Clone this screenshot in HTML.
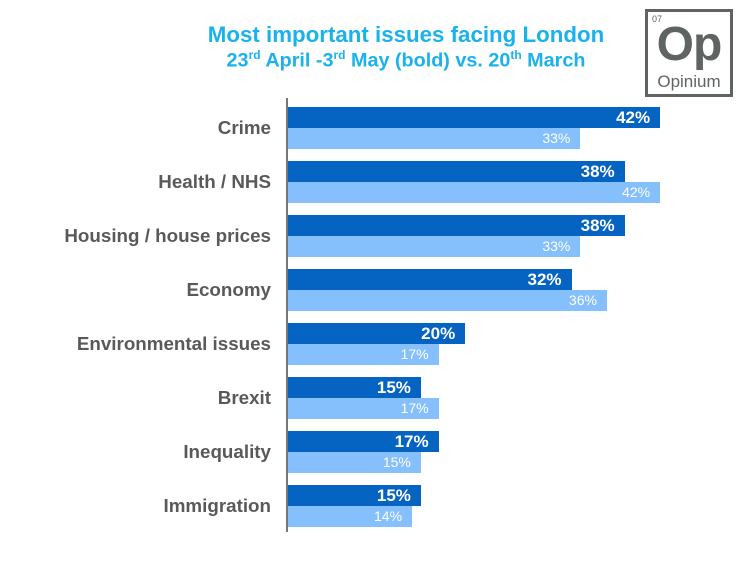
<!DOCTYPE html>
<html><head><style>
body{margin:0;width:745px;height:571px;background:#fff;font-family:"Liberation Sans",Arial,sans-serif;position:relative;overflow:hidden}
.t{position:absolute;left:0;width:812px;text-align:center;color:#1ab2ec;font-weight:bold}
.lab{position:absolute;right:474px;font-size:18.8px;font-weight:bold;color:#595959;white-space:nowrap}
.b{position:absolute;left:288px;height:21px}
.d{background:#0563c1;color:#fff;font-weight:bold;font-size:17px;text-align:right;line-height:21px;box-sizing:border-box;padding-right:10px}
.l{background:#85c0fc;color:#fff;font-size:14px;text-align:right;line-height:21px;box-sizing:border-box;padding-right:10px}
</style></head><body>
<div class="t" style="top:22px;font-size:22.3px">Most important issues facing London</div>
<div class="t" style="top:48px;font-size:19.8px">23<sup style="font-size:12px">rd</sup> April -3<sup style="font-size:12px">rd</sup> May (bold) vs. 20<sup style="font-size:12px">th</sup> March</div>
<div style="position:absolute;left:645px;top:9px;width:82px;height:82px;border:3px solid #5f6461;color:#5f6461">
<div style="position:absolute;left:4px;top:2px;font-size:9px">07</div>
<div style="position:absolute;left:0;width:82px;top:5px;text-align:center;font-size:48px;font-weight:bold;letter-spacing:-1px">Op</div>
<div style="position:absolute;left:0;width:82px;top:60px;text-align:center;font-size:17px">Opinium</div>
</div>
<div style="position:absolute;left:286px;top:98px;width:1.5px;height:434px;background:#777"></div>
<div id="c"></div>
<script>
var d=[["Crime",42,33],["Health / NHS",38,42],["Housing / house prices",38,33],["Economy",32,36],["Environmental issues",20,17],["Brexit",15,17],["Inequality",17,15],["Immigration",15,14]];
var h="";d.forEach(function(r,i){var y=107+54*i;
h+='<div class="lab" style="top:'+(y+10)+'px">'+r[0]+'</div>';
h+='<div class="b d" style="top:'+y+'px;width:'+(r[1]*8.86)+'px">'+r[1]+'%</div>';
h+='<div class="b l" style="top:'+(y+21)+'px;width:'+(r[2]*8.86)+'px">'+r[2]+'%</div>';});
document.getElementById("c").innerHTML=h;
</script>
</body></html>
